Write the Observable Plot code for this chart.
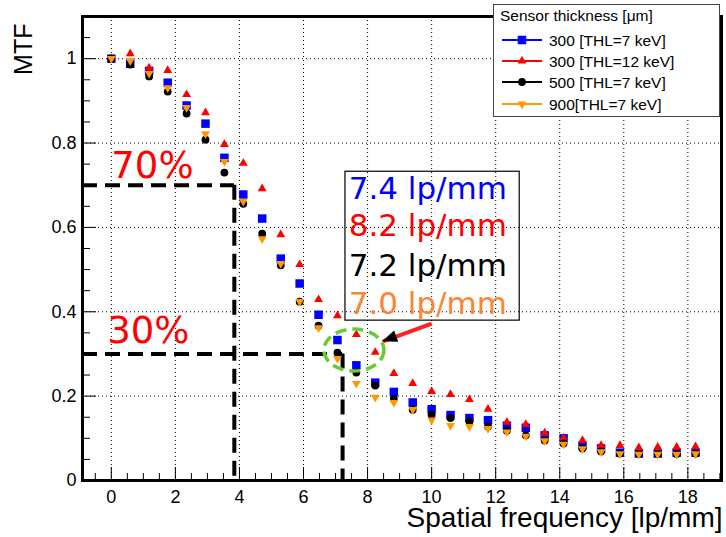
<!DOCTYPE html>
<html><head><meta charset="utf-8">
<script src="https://cdn.jsdelivr.net/npm/d3@7"></script>
<script src="https://cdn.jsdelivr.net/npm/@observablehq/plot@0.6"></script>
<style>
body{margin:0;background:#fff;}
#chart{width:726px;height:537px;}
</style></head><body><div id="chart"></div>
<script>
// ---- data ----
const freq = [0, 0.59, 1.18, 1.76, 2.35, 2.94, 3.53, 4.12, 4.71, 5.29, 5.88, 6.47, 7.06, 7.65, 8.24, 8.82,
  9.41, 10.0, 10.59, 11.18, 11.76, 12.35, 12.94, 13.53, 14.12, 14.71, 15.29, 15.88, 16.47, 17.06, 17.65, 18.24];
const mtf300_7 = [1.0, 0.988, 0.971, 0.943, 0.889, 0.846, 0.765, 0.678, 0.621, 0.526, 0.467, 0.393, 0.333, 0.273, 0.232, 0.210,
  0.185, 0.169, 0.155, 0.148, 0.143, 0.130, 0.125, 0.107, 0.100, 0.083, 0.076, 0.066, 0.064, 0.064, 0.066, 0.066];
const mtf300_12 = [1.0, 1.012, 0.978, 0.972, 0.915, 0.872, 0.797, 0.752, 0.692, 0.583, 0.512, 0.429, 0.391, 0.346, 0.304, 0.254,
  0.230, 0.211, 0.204, 0.192, 0.169, 0.138, 0.133, 0.113, 0.101, 0.095, 0.083, 0.083, 0.078, 0.079, 0.079, 0.080];
const mtf500_7 = [1.0, 0.986, 0.958, 0.922, 0.870, 0.808, 0.730, 0.656, 0.585, 0.510, 0.424, 0.367, 0.303, 0.256, 0.225, 0.194,
  0.168, 0.156, 0.148, 0.140, 0.128, 0.118, 0.107, 0.095, 0.088, 0.076, 0.069, 0.064, 0.063, 0.063, 0.063, 0.064];
const mtf900_7 = [1.0, 0.995, 0.965, 0.931, 0.884, 0.822, 0.756, 0.662, 0.573, 0.514, 0.424, 0.362, 0.289, 0.230, 0.197, 0.185,
  0.168, 0.143, 0.130, 0.128, 0.123, 0.115, 0.105, 0.094, 0.086, 0.075, 0.068, 0.063, 0.062, 0.062, 0.062, 0.063];

const seriesNames = ["300 [THL=7 keV]", "300 [THL=12 keV]", "500 [THL=7 keV]", "900[THL=7 keV]"];
const seriesColors = ["#0000ff", "#ff0000", "#000000", "#ff9900"];
const legendTitle = "Sensor thickness [\u03bcm]";

const xTicks = [0, 2, 4, 6, 8, 10, 12, 14, 16, 18];
const yTicks = [0, 0.2, 0.4, 0.6, 0.8, 1];
const xTickLabels = ["0", "2", "4", "6", "8", "10", "12", "14", "16", "18"];
const yTickLabels = ["0", "0.2", "0.4", "0.6", "0.8", "1"];

const levelValues = [0.7, 0.3];
const levelLabels = ["70%", "30%"];
const levelCross = [3.84, 7.22];

const resolutionLabels = ["7.4 lp/mm", "8.2 lp/mm", "7.2 lp/mm", "7.0 lp/mm"];
const resolutionColors = ["#0000ff", "#ff0000", "#000000", "#f98535"];

// annotation anchors (data coordinates)
const levelLabelPos = [[0.0, 0.746], [-0.13, 0.353]];
const boxX = [7.31, 12.75], boxY = [0.379, 0.732];
const resTextX = 7.41, resTextY = [0.692, 0.602, 0.509, 0.419];
const ellipseCenter = [7.59, 0.308];
const arrowFrom = [10.0, 0.372], arrowTo = [8.47, 0.329];

// ---- layout ----
const W = 726, H = 537, mL = 82, mR = 5, mT = 16, mB = 57;
const plotW = W - mL - mR, plotH = H - mT - mB;
const xDomain = [-0.9, 19.05], yDomain = [0, 1.1];
const sansFont = "'Liberation Sans', Arial, Helvetica, sans-serif";
const dejaFont = "'DejaVu Sans', sans-serif";

const sq3 = Math.sqrt(3);
const triDown = {draw(ctx, size) {
  const y = Math.sqrt(size / (sq3 * 3));
  ctx.moveTo(0, 2 * y); ctx.lineTo(-sq3 * y, -y); ctx.lineTo(sq3 * y, -y); ctx.closePath();
}};
const seriesSymbols = ["square", "triangle", "circle", triDown];
const seriesR = [4.8, 3.3, 3.9, 3.3];
const seriesData = [mtf300_7, mtf300_12, mtf500_7, mtf900_7];

const rows = seriesData.map(arr => freq.map((f, i) => ({f, v: arr[i]})));

const xMinor = d3.range(-0.5, 19.01, 0.5).filter(v => Math.abs(v / 2 - Math.round(v / 2)) > 1e-6);
const yMinor = d3.range(0.05, 1.09, 0.05).filter(v => Math.abs(v * 5 - Math.round(v * 5)) > 1e-6);

const dots = rows.map((r, k) => Plot.dot(r, {x: "f", y: "v", fill: seriesColors[k], stroke: "none",
  symbol: seriesSymbols[k], r: seriesR[k]}));

const plot = Plot.plot({
  width: W, height: H,
  marginLeft: mL, marginRight: mR, marginTop: mT, marginBottom: mB,
  style: {fontFamily: sansFont, fontSize: "18px", color: "#000", background: "#fff"},
  x: {domain: xDomain, ticks: xTicks, tickSize: 0, tickPadding: 10, label: null,
      tickFormat: d => xTickLabels[xTicks.indexOf(d)]},
  y: {domain: yDomain, ticks: yTicks, tickSize: 0, tickPadding: 6, label: null,
      tickFormat: d => yTickLabels[yTicks.indexOf(d)]},
  marks: [
    // dotted grid
    Plot.ruleX(xTicks, {x: d => d, stroke: "#000", strokeWidth: 1, strokeDasharray: "1,3"}),
    Plot.ruleY(yTicks.slice(1), {y: d => d, stroke: "#000", strokeWidth: 1, strokeDasharray: "1,3"}),
    // inner ticks
    Plot.ruleX(xTicks, {x: d => d, insetTop: plotH - 13, stroke: "#000", strokeWidth: 1}),
    Plot.ruleX(xMinor, {x: d => d, insetTop: plotH - 7, stroke: "#000", strokeWidth: 1}),
    Plot.ruleY(yTicks, {y: d => d, insetRight: plotW - 14, stroke: "#000", strokeWidth: 1}),
    Plot.ruleY(yMinor, {y: d => d, insetRight: plotW - 8, stroke: "#000", strokeWidth: 1}),
    // dashed level lines
    Plot.ruleY(levelValues.map((v, i) => ({v, c: levelCross[i]})),
      {y: "v", x1: xDomain[0], x2: "c", stroke: "#000", strokeWidth: 4, strokeDasharray: "15,8"}),
    Plot.ruleX(levelValues.map((v, i) => ({v, c: levelCross[i]})),
      {x: "c", y1: "v", y2: 0, stroke: "#000", strokeWidth: 4, strokeDasharray: "15,8"}),
    // level labels
    Plot.text(levelLabels.map((t, i) => ({t, x: levelLabelPos[i][0], y: levelLabelPos[i][1]})),
      {x: "x", y: "y", text: "t", fill: "#ff0000", fontSize: 37, fontFamily: dejaFont, textAnchor: "start"}),
    // resolution box
    Plot.rect([{x1: boxX[0], x2: boxX[1], y1: boxY[0], y2: boxY[1]}],
      {x1: "x1", x2: "x2", y1: "y1", y2: "y2", fill: "none", stroke: "#000", strokeWidth: 1.2}),
    Plot.text(resolutionLabels.map((t, i) => ({t, y: resTextY[i], c: resolutionColors[i]})),
      {x: resTextX, y: "y", text: "t", fill: d => d.c, fontSize: 31, fontFamily: dejaFont, textAnchor: "start"}),
    // data
    ...dots,
    // red arrow shaft
    Plot.link([{x1: arrowFrom[0], y1: arrowFrom[1], x2: arrowTo[0], y2: arrowTo[1]}],
      {x1: "x1", y1: "y1", x2: "x2", y2: "y2", stroke: "#ff2020", strokeWidth: 4}),
    // axis titles
    Plot.text(["Spatial frequency [lp/mm]"], {frameAnchor: "bottom-right", text: d => d, textAnchor: "end",
      lineAnchor: "middle", dx: 1, dy: 38, fontSize: 28, fontFamily: sansFont}),
    Plot.text(["MTF"], {frameAnchor: "top-left", text: d => d, rotate: -90, textAnchor: "end",
      lineAnchor: "middle", dx: -59, dy: 7, fontSize: 25, fontFamily: sansFont}),
    Plot.frame({stroke: "#000", strokeWidth: 3})
  ]
});

document.getElementById("chart").appendChild(plot);

const svg = d3.select(plot);
const sx = plot.scale("x"), sy = plot.scale("y");

// green dashed ellipse
svg.append("ellipse")
  .attr("cx", sx.apply(ellipseCenter[0])).attr("cy", sy.apply(ellipseCenter[1]))
  .attr("rx", 30).attr("ry", 21)
  .attr("fill", "none").attr("stroke", "#66cc33").attr("stroke-width", 3.5)
  .attr("stroke-dasharray", "11,6");

// black arrowhead
{
  const tx = sx.apply(arrowTo[0]), ty = sy.apply(arrowTo[1]);
  const fx = sx.apply(arrowFrom[0]), fy = sy.apply(arrowFrom[1]);
  const L = Math.hypot(tx - fx, ty - fy), ux = (tx - fx) / L, uy = (ty - fy) / L;
  const hl = 15, hw = 6;
  const bx = tx - ux * hl, by = ty - uy * hl;
  svg.append("polygon")
    .attr("points", `${tx},${ty} ${bx - uy * hw},${by + ux * hw} ${bx + uy * hw},${by - ux * hw}`)
    .attr("fill", "#000");
}

// legend
{
  const g = svg.append("g").attr("font-family", sansFont).attr("font-size", 15.5)
    .attr("text-anchor", "start");
  g.append("rect").attr("x", 493.5).attr("y", 4.5).attr("width", 226).attr("height", 112)
    .attr("fill", "#fff").attr("stroke", "#444").attr("stroke-width", 1);
  g.append("text").attr("x", 500).attr("y", 21).attr("text-anchor", "start").text(legendTitle);
  const rowY = [40, 61, 82, 104];
  seriesNames.forEach((name, k) => {
    const y = rowY[k];
    g.append("line").attr("x1", 502).attr("x2", 542).attr("y1", y).attr("y2", y)
      .attr("stroke", seriesColors[k]).attr("stroke-width", 2);
    const sym = typeof seriesSymbols[k] === "string"
      ? {square: d3.symbolSquare, triangle: d3.symbolTriangle, circle: d3.symbolCircle}[seriesSymbols[k]]
      : seriesSymbols[k];
    g.append("path").attr("transform", `translate(522,${y})`)
      .attr("d", d3.symbol(sym, Math.PI * seriesR[k] * seriesR[k])())
      .attr("fill", seriesColors[k]);
    g.append("text").attr("x", 549).attr("y", y + 5.5).attr("text-anchor", "start").text(name);
  });
}
</script>
</body></html>
